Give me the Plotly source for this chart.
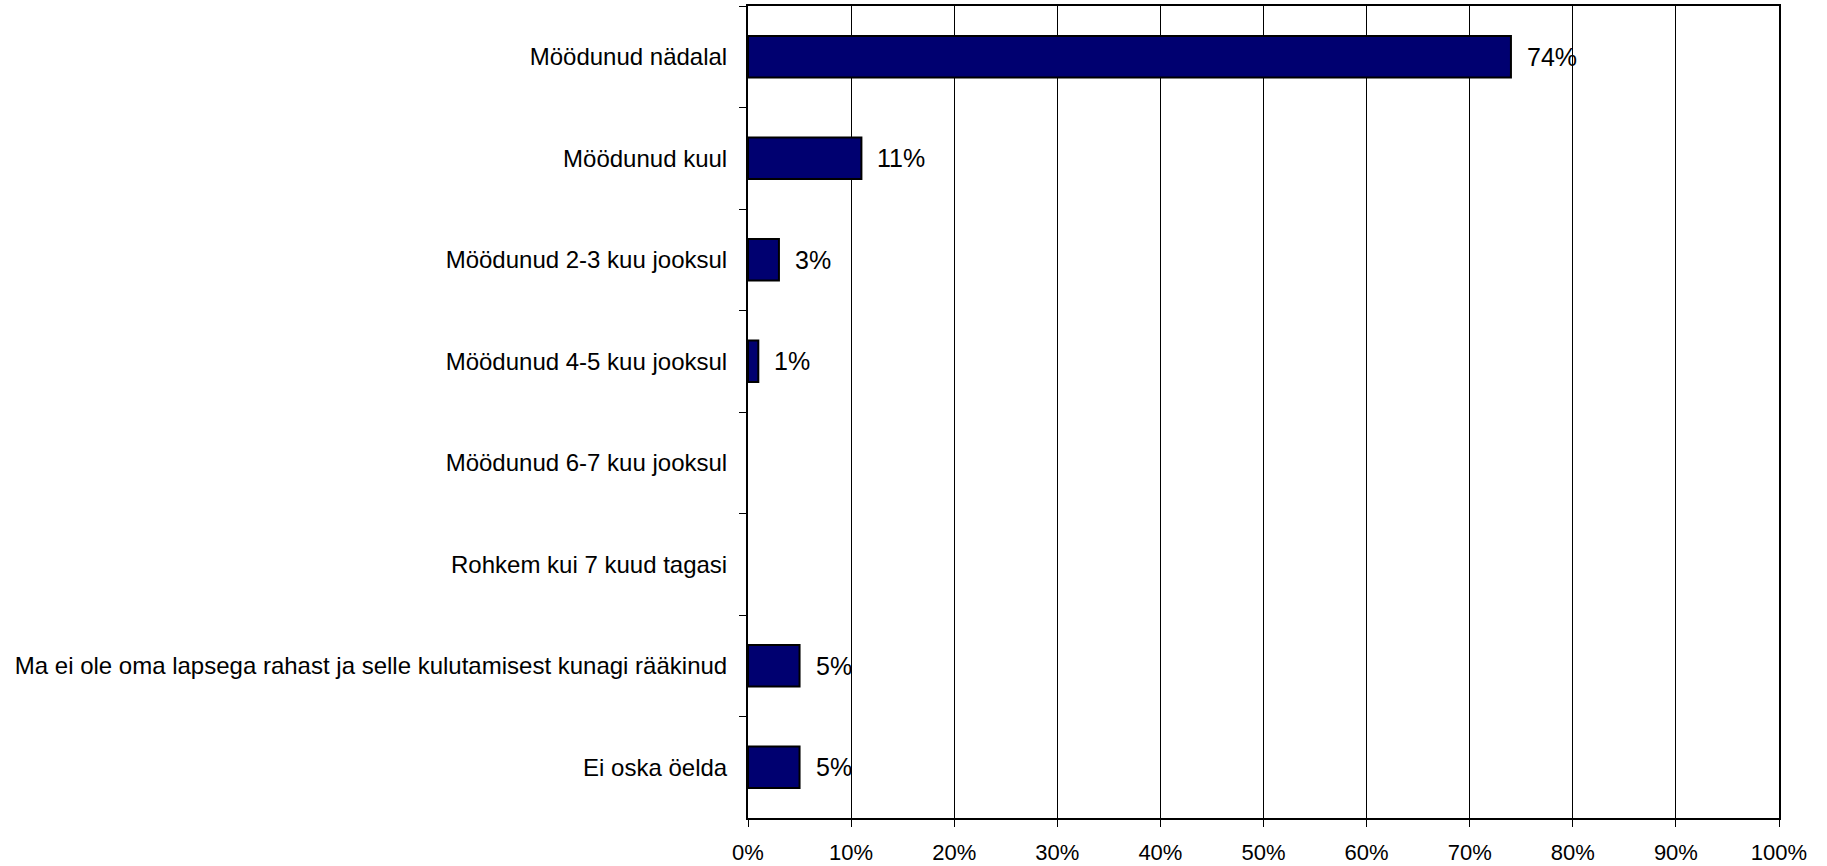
import plotly.graph_objects as go

categories = [
    "Möödunud nädalal",
    "Möödunud kuul",
    "Möödunud 2-3 kuu jooksul",
    "Möödunud 4-5 kuu jooksul",
    "Möödunud 6-7 kuu jooksul",
    "Rohkem kui 7 kuud tagasi",
    "Ma ei ole oma lapsega rahast ja selle kulutamisest kunagi rääkinud",
    "Ei oska öelda",
]
values = [74, 11, 3, 1, None, None, 5, 5]
x_ticks = list(range(0, 101, 10))
x_tick_labels = [f"{t}%" for t in x_ticks]

FONT = "Liberation Sans, Arial, sans-serif"

fig = go.Figure()

fig.add_trace(
    go.Bar(
        x=values,
        y=categories,
        orientation='h',
        marker=dict(color='#000070', line=dict(color='black', width=2)),
        hoverinfo='x+y',
        showlegend=False,
    )
)

# value labels to the right of each bar
for cat, val in zip(categories, values):
    if val is None:
        continue
    fig.add_annotation(
        x=val,
        y=cat,
        text=f"{val}%",
        showarrow=False,
        xanchor='left',
        xshift=14,
        font=dict(family=FONT, size=25, color='black'),
    )

fig.update_layout(
    width=1827,
    height=866,
    margin=dict(l=748, r=48, t=6, b=48),
    plot_bgcolor='white',
    paper_bgcolor='white',
    bargap=0.59,
    font=dict(family=FONT, color='black'),
    xaxis=dict(
        range=[0, 100],
        tickvals=x_ticks,
        ticktext=x_tick_labels,
        showgrid=True,
        gridcolor='black',
        gridwidth=1,
        showline=True,
        linecolor='black',
        linewidth=2,
        mirror=True,
        ticks='outside',
        ticklen=7,
        tickcolor='black',
        ticklabelstandoff=7,
        tickfont=dict(size=22),
        zeroline=False,
        automargin=False,
        fixedrange=True,
    ),
    yaxis=dict(
        autorange='reversed',
        showline=True,
        linecolor='black',
        linewidth=2,
        mirror=True,
        ticks='outside',
        tickson='boundaries',
        ticklen=7,
        tickcolor='black',
        ticklabelstandoff=14,
        showgrid=False,
        tickfont=dict(size=24),
        automargin=False,
        fixedrange=True,
    ),
)

# drop the default body margin so the figure fills the window exactly
fig.write_html(
    "out.html",
    config={'displayModeBar': False},
    post_script="document.body.style.margin='0';document.body.style.overflow='hidden';",
)
